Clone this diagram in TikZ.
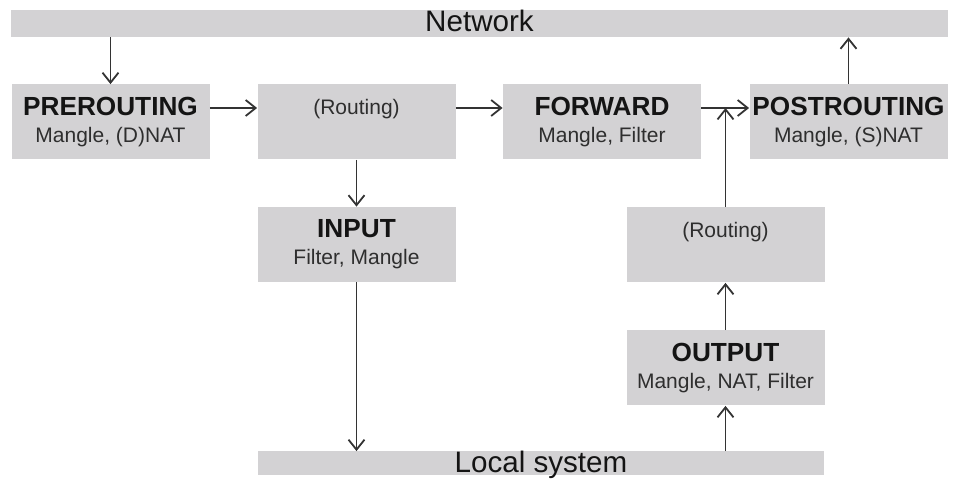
\documentclass[tikz,border=0pt]{standalone}
\usepackage{fontspec}
\setmainfont{Liberation Sans}
\usetikzlibrary{arrows.meta,positioning,calc}
\definecolor{panel}{HTML}{D3D2D4}
\definecolor{ink}{HTML}{141414}
\definecolor{soft}{HTML}{2E2E2E}
\definecolor{wire}{HTML}{333333}

\tikzset{
  box/.style={fill=panel,minimum width=99pt,minimum height=37.5pt,inner sep=0.5pt,
    align=center,text=soft,font=\fontsize{10.5}{13.5}\selectfont},
  route/.style={box,text height=8pt,text depth=15pt},
  bar/.style={fill=panel,minimum height=13.5pt,inner sep=0pt,text=ink,
    font=\fontsize{14.8}{16}\selectfont,text depth=0pt},
  flow/.style={-{Straight Barb[length=5pt,width=8pt]},wire,line width=0.9pt},
}
\newcommand{\hook}[1]{{\color{ink}\fontsize{13.1}{13.5}\selectfont\bfseries #1}}

\begin{document}
\begin{tikzpicture}[x=0.5pt,y=-0.5pt]
\useasboundingbox (0,0) rectangle (954,485);
% network and local planes
\node[bar,minimum width=468.5pt,text height=8.5pt] (net) at (479.5,23.5) {Network};
\node[bar,minimum width=283pt,minimum height=12pt,text height=9.5pt] (loc) at (541,463.5) {Local system};
% netfilter hooks
\node[box] (pre) at (110.5,122) {\hook{PREROUTING}\\Mangle, (D)NAT};
\node[route] (rtin) at (356.5,122) {(Routing)};
\node[box] (fwd) at (602,122) {\hook{FORWARD}\\Mangle, Filter};
\node[box] (post) at (848.5,122) {\hook{POSTROUTING}\\Mangle, (S)NAT};
\node[box] (inp) at (356.5,244.5) {\hook{INPUT}\\Filter, Mangle};
\node[route] (rtout) at (725.5,245) {(Routing)};
\node[box] (out) at (725.5,368) {\hook{OUTPUT}\\Mangle, NAT, Filter};
\coordinate (fwdout) at ([yshift=7pt]fwd.east);
% packet paths
\draw[flow] (net.south -| pre.north) -- (pre.north);
\draw[flow] ([yshift=7pt]pre.east) -- ([yshift=7pt]rtin.west);
\draw[flow] ([yshift=7pt]rtin.east) -- ([yshift=7pt]fwd.west);
\draw[flow] (fwdout) -- ([yshift=7pt]post.west);
\draw[flow] (post.north) -- (post.north |- net.south);
\draw[flow] (rtin.south) -- (inp.north);
\draw[flow] (inp.south) -- (inp.south |- loc.north);
\draw[flow] (out.south |- loc.north) -- (out.south);
\draw[flow] (out.north) -- (rtout.south);
\draw[flow] (rtout.north) -- (rtout.north |- fwdout);
\end{tikzpicture}
\end{document}
